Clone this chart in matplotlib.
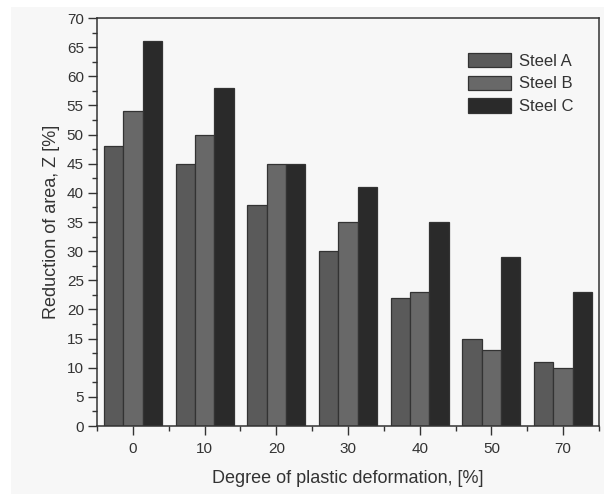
import matplotlib.pyplot as plt
import numpy as np
from matplotlib.patches import Rectangle
from matplotlib.ticker import MultipleLocator, FixedLocator

plt.rcParams['font.family'] = ['Liberation Sans', 'DejaVu Sans']

# data
categories = ['0', '10', '20', '30', '40', '50', '70']
steel_a = [48, 45, 38, 30, 22, 15, 11]
steel_b = [54, 50, 45, 35, 23, 13, 10]
steel_c = [66, 58, 45, 41, 35, 29, 23]
series_names = ['Steel A', 'Steel B', 'Steel C']
colors = ['#5a5a5a', '#686868', '#2a2a2a']

bg = '#f7f7f7'
txt = '#333333'

fig = plt.figure(figsize=(6.04, 4.94), dpi=100)
fig.patch.set_facecolor('white')
# light gray panel behind the plot (starts a few px in from top/left)
fig.patches.append(Rectangle((11 / 604, 0), 1, 1 - 7 / 494, transform=fig.transFigure,
                             facecolor=bg, edgecolor='none', zorder=-10))

ax = fig.add_axes([97 / 604, 68 / 494, 502 / 604, 408 / 494])
ax.set_facecolor(bg)

x = np.arange(len(categories))
w = 0.27
for i, (vals, name) in enumerate(zip([steel_a, steel_b, steel_c], series_names)):
    ax.bar(x + (i - 1) * w, vals, width=w, color=colors[i], edgecolor='#333333',
           linewidth=0.9, label=name)

ax.set_xlim(-0.5, 6.5)
ax.set_ylim(0, 70)
ax.set_xticks(x)
ax.set_xticklabels(categories)
ax.xaxis.set_minor_locator(FixedLocator(np.arange(-0.5, 7, 1.0)))
ax.yaxis.set_major_locator(MultipleLocator(5))
ax.yaxis.set_minor_locator(MultipleLocator(2.5))

ax.tick_params(axis='both', which='major', direction='out', length=6.5, width=1.0,
               colors=txt, labelsize=11, pad=3)
ax.tick_params(axis='both', which='minor', direction='out', length=3.5, width=1.0, colors=txt)
ax.tick_params(axis='x', which='major', pad=5)
for s in ax.spines.values():
    s.set_color(txt)
    s.set_linewidth(1.1)

ax.set_xlabel('Degree of plastic deformation, [%]', fontsize=13, color=txt, labelpad=10)
ax.set_ylabel('Reduction of area, Z [%]', fontsize=13, color=txt, labelpad=5)

leg = ax.legend(loc='upper left', bbox_to_anchor=((468 - 97) / 502, (426 - 53) / 408),
                frameon=False, fontsize=12, borderpad=0,
                handlelength=2.6, handleheight=0.95, handletextpad=0.45, labelspacing=0.4,
                borderaxespad=0)
for t in leg.get_texts():
    t.set_color(txt)

fig.savefig('out.png', dpi=100, facecolor=fig.get_facecolor())
